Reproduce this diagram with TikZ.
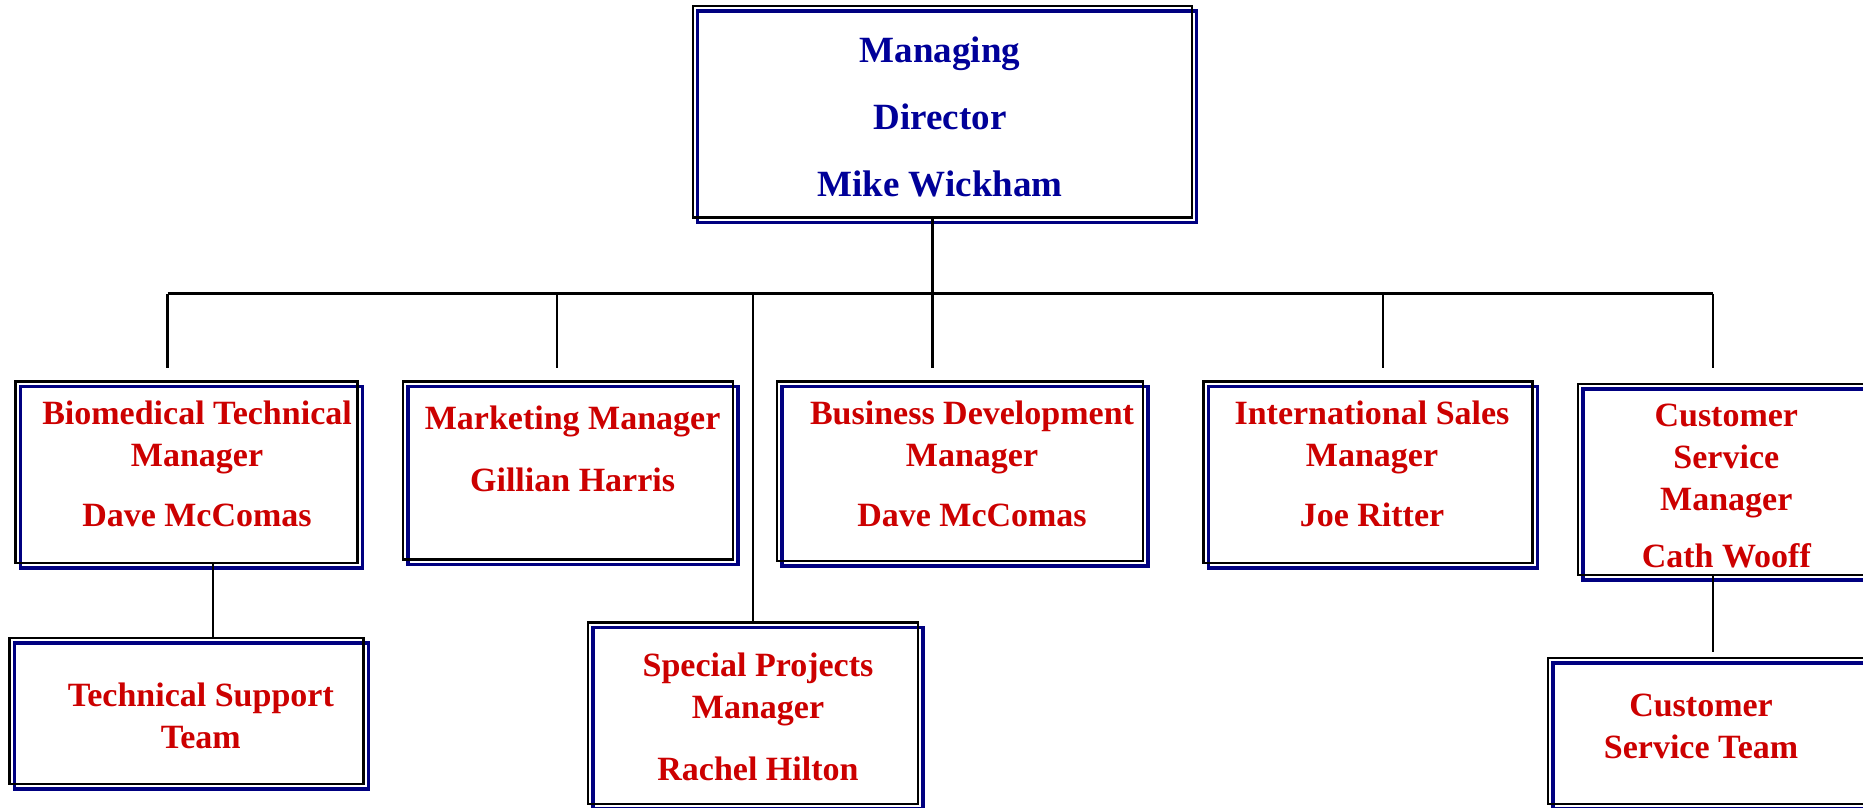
\documentclass[tikz,border=0pt]{standalone}
\usepackage{fontspec}
\setmainfont{Liberation Serif}
\usepackage{tikz}
\definecolor{boxnavy}{RGB}{0,0,128}
\definecolor{headblue}{RGB}{0,0,153}
\definecolor{postred}{RGB}{204,0,0}
\tikzset{
	post/.style    = {draw, line width=2.3pt, rectangle, inner sep=0pt,
		preaction={draw=boxnavy, line width=3.5pt, transform canvas={shift={(5pt,-5pt)}}}},
	title/.style   = {align=center, inner sep=0pt, text=postred,
		font=\bfseries\fontsize{34}{42}\selectfont},
	head/.style    = {align=center, inner sep=0pt, text=headblue,
		font=\bfseries\fontsize{37}{67}\selectfont},
	link/.style    = {line width=2.3pt},
	joint/.style   = {coordinate}
}
\begin{document}
\begin{tikzpicture}[x=1pt, y=-1pt]
	\useasboundingbox (0,0) rectangle (1863,807);
	\draw
	node at (942.2,111.7) [post, minimum width=499pt, minimum height=211.4pt] (md) {}
	node at (186.5,472.2) [post, minimum width=342.2pt, minimum height=181.6pt] (btm) {}
	node at (567.9,470.5) [post, minimum width=330.2pt, minimum height=178.2pt] (mm) {}
	node at (960,471.1) [post, minimum width=366pt, minimum height=179.4pt] (bdm) {}
	node at (1368,472.2) [post, minimum width=329.1pt, minimum height=181.6pt] (ism) {}
	node at (1731.4,479.4) [post, minimum width=307.2pt, minimum height=191.3pt] (csm) {}
	node at (186.5,711) [post, minimum width=354pt, minimum height=146pt] (tst) {}
	node at (753,713.3) [post, minimum width=330pt, minimum height=181.4pt] (spm) {}
	node at (1716.5,731) [post, minimum width=337pt, minimum height=146pt] (cst) {};

	\draw
	node at (940,117) [head] (mdtext) {Managing\\Director\\Mike Wickham}
	node at (197,464) [title] (btmtext) {Biomedical Technical\\Manager\\[18pt]Dave McComas}
	node at (572.6,449) [title] (mmtext) {Marketing Manager\\[20pt]Gillian Harris}
	node at (972,464) [title] (bdmtext) {Business Development\\Manager\\[18pt]Dave McComas}
	node at (1372,464) [title] (ismtext) {International Sales\\Manager\\[18pt]Joe Ritter}
	node at (1726.3,486) [title] (csmtext) {Customer\\Service\\Manager\\[15pt]Cath Wooff}
	node at (758,717) [title] (spmtext) {Special Projects\\Manager\\[20pt]Rachel Hilton}
	node at (200.8,716) [title] (tsttext) {Technical Support\\Team}
	node at (1701,726) [title] (csttext) {Customer\\Service Team};

	\coordinate (jbtm) at (167.5,293.5);
	\coordinate (jmm)  at (557,293.5);
	\coordinate (jspm) at (753,293.5);
	\coordinate (jmd)  at (932.6,293.5);
	\coordinate (jism) at (1383,293.5);
	\coordinate (jcsm) at (1713,293.5);
	\coordinate (ebtm) at (167.5,368);
	\coordinate (emm)  at (557,368);
	\coordinate (ebdm) at (932.6,368);
	\coordinate (eism) at (1383,368);
	\coordinate (ecsm) at (1713,368);
	\coordinate (xtst) at (212.7,0);
	\coordinate (ecst) at (1713,652);

	\draw[link](jbtm)--(jcsm);
	\draw[link](md.south -| jmd)--(jmd);
	\draw[link](jbtm)--(ebtm);
	\draw[link](jmm)--(emm);
	\draw[link](jmd)--(ebdm);
	\draw[link](jism)--(eism);
	\draw[link](jcsm)--(ecsm);
	\draw[link](jspm)--(spm.north -| jspm);
	\draw[link](btm.south -| xtst)--(tst.north -| xtst);
	\draw[link](csm.south -| ecst)--(ecst);
\end{tikzpicture}
\end{document}
